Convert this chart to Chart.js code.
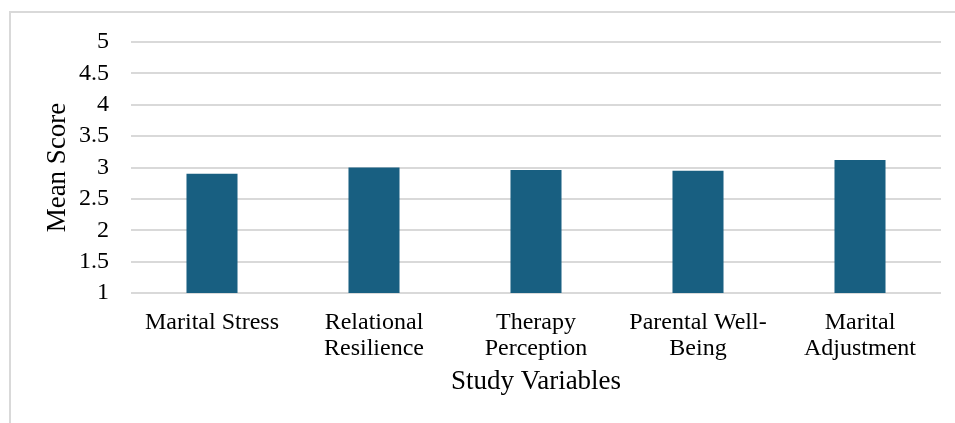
<!DOCTYPE html>
<html>
<head>
<meta charset="utf-8">
<script src="https://cdn.jsdelivr.net/npm/chart.js@4"></script>
<style>
  body { margin: 0; background: #fff; }
  #wrap { position: relative; width: 955px; height: 423px; }
  #frame {
    position: absolute; left: 9px; top: 11px; right: 0; bottom: 0;
    border-left: 2px solid #d9d9d9; border-top: 2px solid #d9d9d9;
  }
  canvas { position: absolute; left: 0; top: 0; }
</style>
</head>
<body>
<div id="wrap">
  <div id="frame"></div>
  <canvas id="chart" width="955" height="423"></canvas>
</div>
<script>
// ==== Data ====
const categories = [
  "Marital Stress",
  ["Relational", "Resilience"],
  ["Therapy", "Perception"],
  ["Parental Well-", "Being"],
  ["Marital", "Adjustment"]
];
const meanScores = [2.90, 3.00, 2.96, 2.95, 3.12];
const yMin = 1;
const yMax = 5;
const yStep = 0.5;

const font = "'Liberation Serif', 'Times New Roman', serif";

// ==== Chart ====
const ctx = document.getElementById("chart").getContext("2d");
new Chart(ctx, {
  type: "bar",
  data: {
    labels: categories,
    datasets: [{
      data: meanScores,
      backgroundColor: "#185f81",
      barPercentage: 0.63,
      categoryPercentage: 0.5
    }]
  },
  options: {
    responsive: false,
    animation: false,
    layout: { padding: { left: 10, right: 14, top: 42, bottom: 20 } },
    plugins: { legend: { display: false }, tooltip: { enabled: false } },
    scales: {
      x: {
        grid: { display: false },
        border: { display: false },
        ticks: {
          color: "#000",
          font: { family: font, size: 24, lineHeight: 1.08 },
          padding: 9,
          maxRotation: 0,
          autoSkip: false
        },
        title: {
          display: true,
          text: "Study Variables",
          color: "#000",
          font: { family: font, size: 27 },
          padding: { top: 0, bottom: 5 }
        },
        afterFit: (s) => { s.height = 110; }
      },
      y: {
        min: yMin,
        max: yMax,
        grid: { color: "#d9d9d9", lineWidth: 2, drawTicks: false },
        border: { display: false },
        ticks: {
          stepSize: yStep,
          autoSkip: false,
          color: "#000",
          font: { family: font, size: 24, lineHeight: 1 },
          padding: 22,
          callback: (v) => String(v)
        },
        title: {
          display: true,
          text: "Mean Score",
          color: "#000",
          font: { family: font, size: 27 },
          padding: { top: 32, bottom: 0 }
        },
        afterFit: (s) => { s.width = 121; }
      }
    }
  }
});
</script>
</body>
</html>
